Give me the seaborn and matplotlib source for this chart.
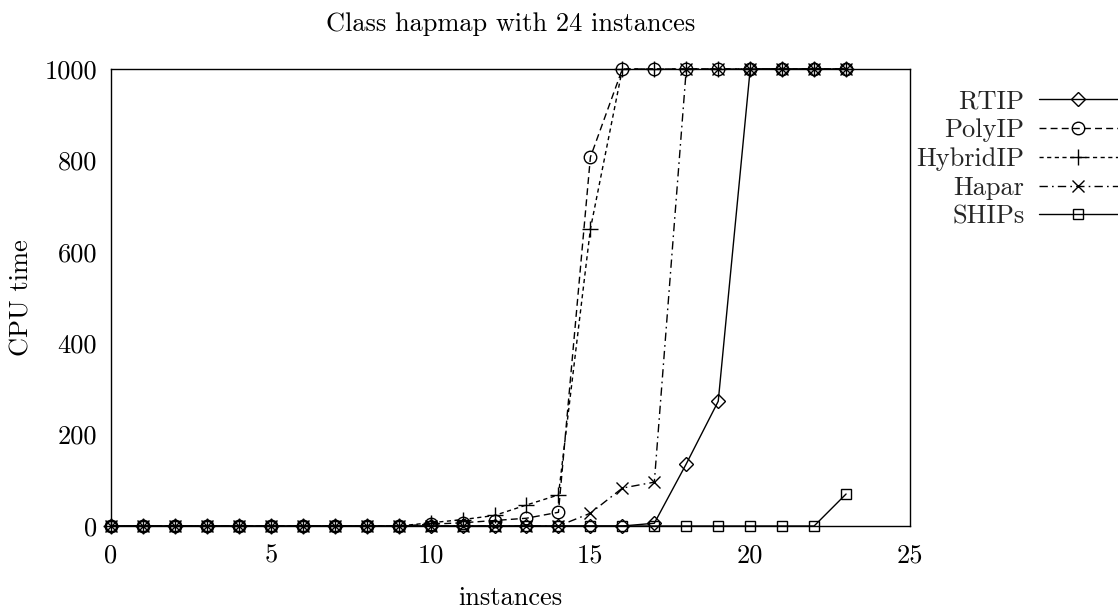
import numpy as np
import pandas as pd
import matplotlib
matplotlib.use("Agg")
import matplotlib.pyplot as plt
import seaborn as sns
from matplotlib.lines import Line2D

# CPU time per instance for each solver (capped at 1000)
instances = list(range(24))
rtip = [0] * 17 + [6, 136, 273, 1000, 1000, 1000, 1000]
polyip = [0] * 10 + [4, 7, 12, 17, 30, 807] + [1000] * 8
hybridip = [0] * 10 + [7, 14, 23, 46, 68, 650] + [1000] * 8
hapar = [0] * 15 + [28, 83, 96] + [1000] * 6
ships = [0] * 23 + [70]

series_names = ["RTIP", "PolyIP", "HybridIP", "Hapar", "SHIPs"]
series_values = [rtip, polyip, hybridip, hapar, ships]

title = "Class hapmap with 24 instances"
x_label = "instances"
y_label = "CPU time"
x_ticks = [0, 5, 10, 15, 20, 25]
y_ticks = [0, 200, 400, 600, 800, 1000]

sns.set_theme(style="white")
plt.rcParams["font.family"] = ["cmr10", "DejaVu Serif"]
plt.rcParams["axes.formatter.use_mathtext"] = True
plt.rcParams["mathtext.fontset"] = "cm"

FS = 19

styles = {
    "RTIP": dict(marker="D", ms=7, ls="-"),
    "PolyIP": dict(marker="o", ms=9, ls=(0, (5, 3))),
    "HybridIP": dict(marker="+", ms=11, ls=(0, (3, 2.5))),
    "Hapar": dict(marker="x", ms=8, ls=(0, (6, 3, 1.2, 3))),
    "SHIPs": dict(marker="s", ms=7, ls="-"),
}

fig = plt.figure(figsize=(11.18, 6.09), dpi=100)
ax = fig.add_axes([111 / 1118, 1 - 526 / 609, (910 - 111) / 1118, (526 - 69) / 609])

df = pd.DataFrame({"instances": instances})
for name, vals in zip(series_names, series_values):
    df[name] = vals

handles = []
for name in series_names:
    st = styles[name]
    sns.lineplot(data=df, x="instances", y=name, ax=ax, color="black",
                 linewidth=1.0, linestyle=st["ls"], marker=st["marker"],
                 markersize=st["ms"], markerfacecolor="none",
                 markeredgecolor="black", markeredgewidth=1.0,
                 clip_on=False, zorder=3)
    handles.append(Line2D([], [], color="black", linewidth=1.0,
                          linestyle=st["ls"], marker=st["marker"],
                          markersize=st["ms"], markerfacecolor="none",
                          markeredgecolor="black", markeredgewidth=1.0))

ax.set_xlim(0, 25)
ax.set_ylim(0, 1000)
ax.set_xticks(x_ticks)
ax.set_yticks(y_ticks)
ax.set_xticklabels([str(t) for t in x_ticks])
ax.set_yticklabels([str(t) for t in y_ticks])
ax.tick_params(axis="both", direction="in", length=11.5, width=0.9,
               labelsize=FS, color="black", labelcolor="black",
               top=False, right=False)
ax.tick_params(axis="x", pad=13)
ax.tick_params(axis="y", pad=10)
for sp in ax.spines.values():
    sp.set_color("black")
    sp.set_linewidth(1.0)
    sp.set_visible(True)

ax.set_xlabel(x_label, fontsize=FS, color="black")
ax.set_ylabel(y_label, fontsize=FS, color="black")
ax.xaxis.set_label_coords(0.5, -0.132)
ax.yaxis.set_label_coords(-0.097, 0.5)
ax.set_title(title, fontsize=FS, color="black", pad=27)

leg = fig.legend(handles, series_names, loc="upper right",
                 bbox_to_anchor=(1.0, 1 - 90 / 609), frameon=False,
                 markerfirst=False, fontsize=FS, handlelength=3.0,
                 handletextpad=0.55, labelspacing=0.19, borderpad=0,
                 borderaxespad=0, numpoints=1)

fig.savefig("out.png", dpi=100)
